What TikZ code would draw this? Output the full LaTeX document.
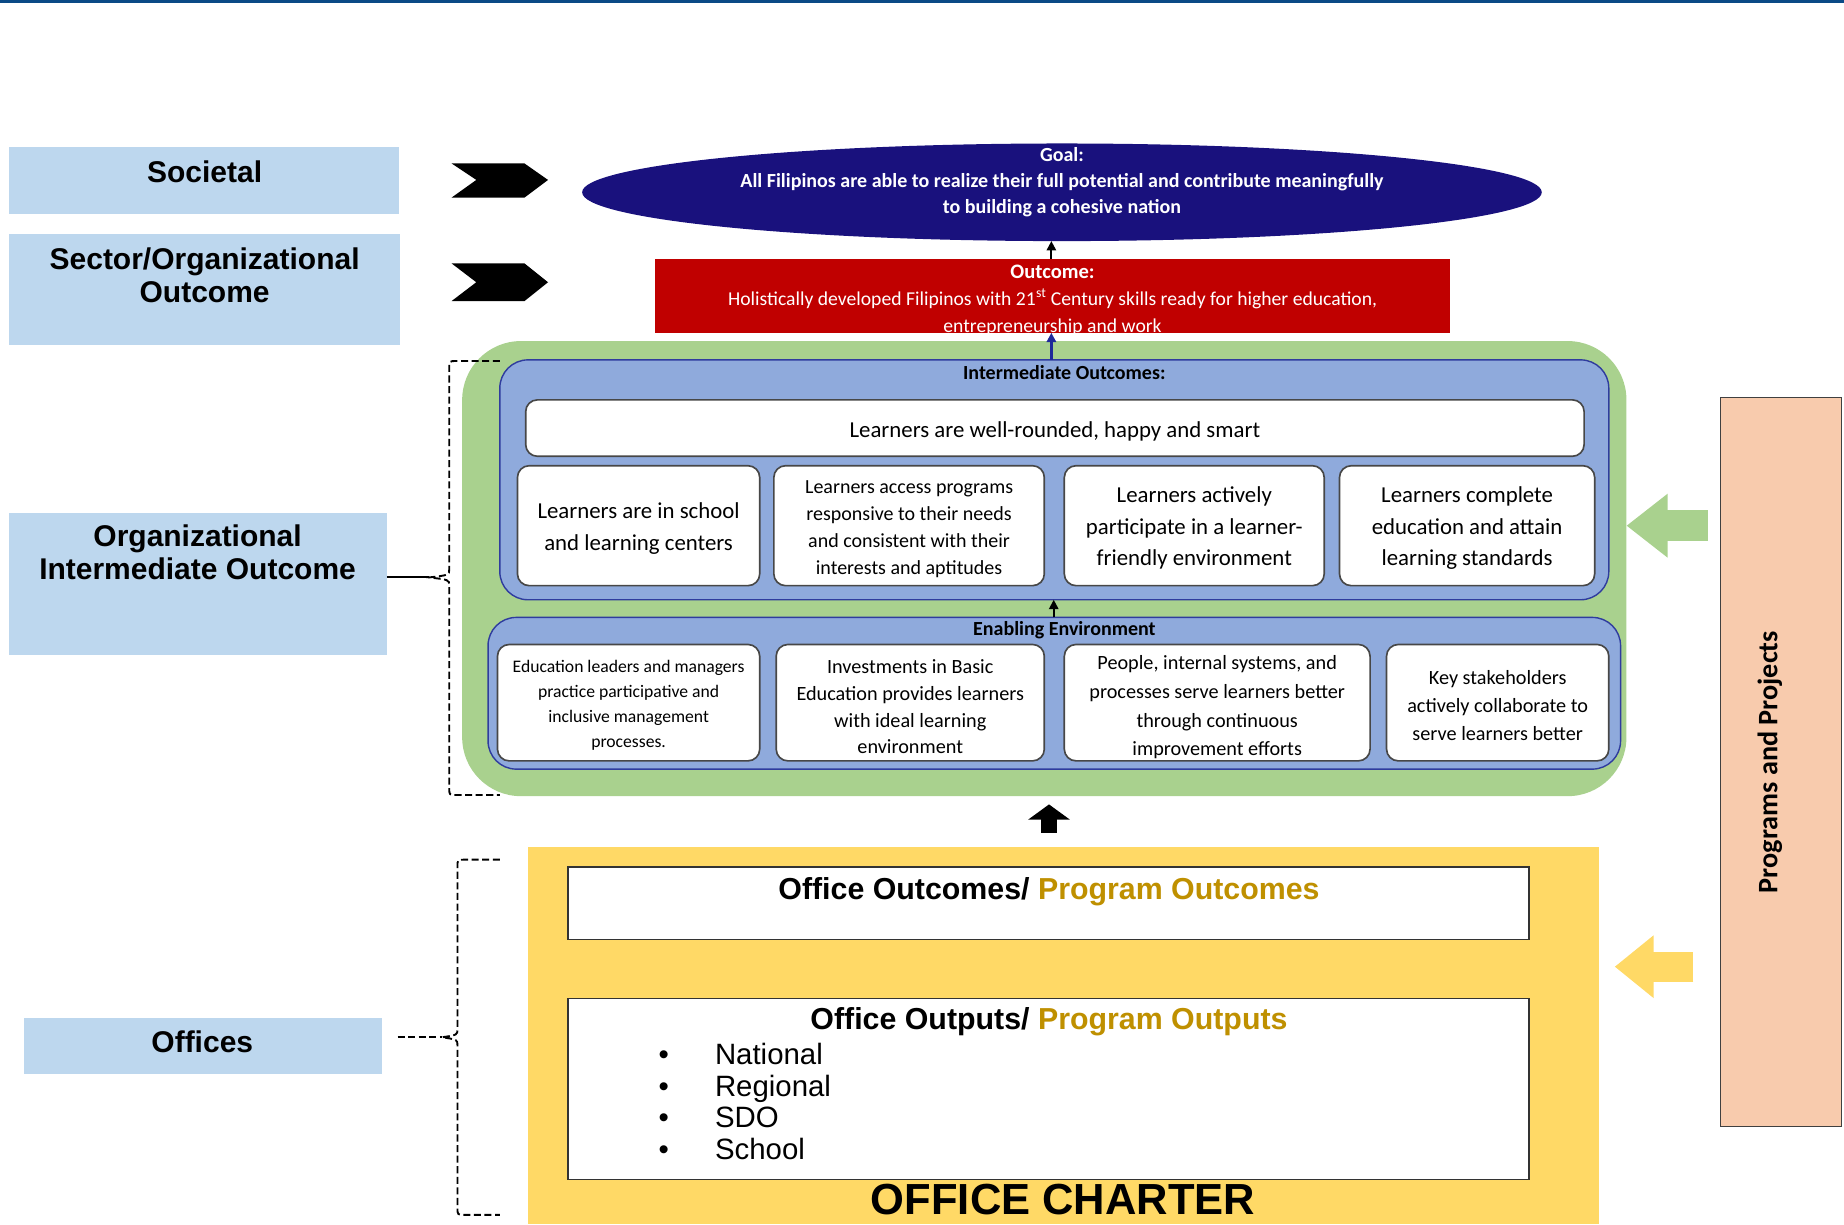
\documentclass[tikz,border=0pt]{standalone}
\usepackage{fontspec}
\setmainfont{Carlito}
\newfontfamily\arialf{Liberation Sans}
\usetikzlibrary{arrows.meta,shapes.geometric,fit}
\definecolor{topblue}{HTML}{0B4A86}
\definecolor{lblue}{HTML}{BDD7EE}
\definecolor{navy}{HTML}{19117D}
\definecolor{navyarrow}{HTML}{1F2A9A}
\definecolor{dred}{HTML}{C00000}
\definecolor{lgreen}{HTML}{A9D18E}
\definecolor{mblue}{HTML}{8FAADC}
\definecolor{bborder}{HTML}{2F3C9E}
\definecolor{yel}{HTML}{FFD966}
\definecolor{gold}{HTML}{BF9000}
\definecolor{peach}{HTML}{F8CBAD}
\begin{document}
\begin{tikzpicture}[x=1pt,y=-1pt,
  every node/.style={inner sep=0pt, outer sep=0pt},
  lbl/.style={fill=lblue},
  lbltxt/.style={font=\arialf\bfseries\fontsize{25.5}{28}\selectfont, align=center},
  wbox/.style={fill=white, draw=black!72, line width=1.4pt, rounded corners=10pt},
  wtxt/.style={align=center, yshift=-2pt},
  bbox/.style={fill=mblue, draw=bborder, line width=1.2pt, rounded corners=24pt},
  rbox/.style={fill=white, draw=black!80, line width=1.3pt},
  chev/.style={fill=black},
  brace/.style={line width=1.6pt, dash pattern=on 6pt off 3pt},
  thinarrow/.style={line width=1.6pt, -{Triangle[width=8pt,length=8pt]}},
  ttl/.style={font=\bfseries\fontsize{17}{19}\selectfont},
  arialtxt/.style={font=\arialf\bfseries\fontsize{25.8}{28}\selectfont},
  itemtxt/.style={font=\arialf\fontsize{25}{28}\selectfont, anchor=base west}
]
\useasboundingbox (0,0) rectangle (1568,1041);
\fill[topblue] (0,0) rectangle (1568,2.5);

% left labels
\node[lbl, fit={(8,125) (339,182)}] (soc) {};
\node[lbltxt] (soctxt) at (174,146) {Societal};
\node[lbl, fit={(8,199) (340,293)}] (sec) {};
\node[lbltxt] (sectxt) at (174,234) {Sector/Organizational\\Outcome};
\node[lbl, fit={(8,436) (329,557)}] (org) {};
\node[lbltxt] (orgtxt) at (168,469.5) {Organizational\\Intermediate Outcome};
\node[lbl, fit={(20,866) (325,913)}] (off) {};
\node[lbltxt] (offtxt) at (172,886) {Offices};

% chevrons
\fill[chev] (384,139) -- (446,139) -- (466,153) -- (446,168) -- (384,168) -- (405,153) -- cycle;
\fill[chev] (384,224) -- (446,224) -- (466,240) -- (446,256) -- (384,256) -- (405,240) -- cycle;

% goal
\node[ellipse, fill=navy, minimum width=816pt, minimum height=83pt] (goal) at (903,163.5) {};
\node[text=white, align=center, font=\bfseries\fontsize{17}{22}\selectfont] (goaltxt) at (903,155)
  {Goal:\\All Filipinos are able to realize their full potential and contribute meaningfully\\to building a cohesive nation};

% outcome
\node[fill=dred, fit={(557,220) (1233,283)}] (outc) {};
\node[text=white, align=center, font=\fontsize{16.7}{23}\selectfont] (outctxt) at (895,255)
  {{\bfseries\fontsize{17.5}{23}\selectfont Outcome:}\\Holistically developed Filipinos with 21\textsuperscript{st} Century skills ready for higher education,\\entrepreneurship and work};

% green container
\node[fill=lgreen, rounded corners=50pt, fit={(393,290) (1383,677)}] (green) {};

% intermediate outcomes
\node[bbox, fit={(425,306) (1368,510)}] (io) {};
\node[ttl] (iotxt) at (905,317) {Intermediate Outcomes:};
\node[wbox, fit={(447,340) (1347,388)}] (wr) {};
\node[wtxt, font=\fontsize{19.4}{22}\selectfont] (wrtxt) at (897,365) {Learners are well-rounded, happy and smart};
\node[wbox, fit={(440,396) (646,498)}] (b1) {};
\node[wtxt, font=\fontsize{19.4}{27}\selectfont] (b1txt) at (543,447.5) {Learners are in school\\and learning centers};
\node[wbox, fit={(658,396) (888,498)}] (b2) {};
\node[wtxt, font=\fontsize{17}{22.7}\selectfont] (b2txt) at (773,448) {Learners access programs\\responsive to their needs\\and consistent with their\\interests and aptitudes};
\node[wbox, fit={(905,396) (1126,498)}] (b3) {};
\node[wtxt, font=\fontsize{19.4}{27}\selectfont] (b3txt) at (1015.5,447) {Learners actively\\participate in a learner-\\friendly environment};
\node[wbox, fit={(1139,396) (1356,498)}] (b4) {};
\node[wtxt, font=\fontsize{19.4}{27}\selectfont] (b4txt) at (1247.5,447) {Learners complete\\education and attain\\learning standards};

% enabling environment
\node[bbox, fit={(415,525) (1378,654)}] (ee) {};
\node[ttl] (eetxt) at (905,536) {Enabling Environment};
\node[wbox, fit={(423,548) (646,647)}] (e1) {};
\node[wtxt, font=\fontsize{15}{21.3}\selectfont] (e1txt) at (534.5,598) {Education leaders and managers\\practice participative and\\inclusive management\\processes.};
\node[wbox, fit={(660,548) (888,647)}] (e2) {};
\node[wtxt, font=\fontsize{17.2}{22.7}\selectfont] (e2txt) at (774,599) {Investments in Basic\\Education provides learners\\with ideal learning\\environment};
\node[wbox, fit={(905,548) (1165,647)}] (e3) {};
\node[wtxt, font=\fontsize{17.2}{24.3}\selectfont] (e3txt) at (1035,599.5) {People, internal systems, and\\processes serve learners better\\through continuous\\improvement efforts};
\node[wbox, fit={(1179,548) (1368,647)}] (e4) {};
\node[wtxt, font=\fontsize{17.2}{24}\selectfont] (e4txt) at (1273.5,598) {Key stakeholders\\actively collaborate to\\serve learners better};

% office charter
\node[fill=yel, fit={(449,720) (1360,1041)}] (charter) {};
\node[rbox, fit={(483,737) (1300,799)}] (oo) {};
\node[arialtxt] (ootxt) at (892,758) {Office Outcomes/ \textcolor{gold}{Program Outcomes}};
\node[rbox, fit={(483,849) (1300,1003)}] (op) {};
\node[arialtxt] (optxt) at (892,869) {Office Outputs/ \textcolor{gold}{Program Outputs}};
\node[itemtxt] (i1) at (560,905) {\makebox[48pt][l]{\textbullet}National};
\node[itemtxt] (i2) at (560,932) {\makebox[48pt][l]{\textbullet}Regional};
\node[itemtxt] (i3) at (560,959) {\makebox[48pt][l]{\textbullet}SDO};
\node[itemtxt] (i4) at (560,986) {\makebox[48pt][l]{\textbullet}School};
\node[font=\arialf\bfseries\fontsize{37}{40}\selectfont] (octxt) at (904,1020) {OFFICE CHARTER};

% programs and projects
\node[fill=peach, draw=black!75, line width=1.2pt, fit={(1463,338) (1566,958)}] (pp) {};
\node[rotate=90, font=\bfseries\fontsize{24}{26}\selectfont] (pptxt) at (1505,648) {Programs and Projects};

% vertical connectors
\draw[thinarrow, black] (outc.north -| 894,0) -- (goal.south -| 894,0);
\draw[thinarrow, navyarrow, line width=2pt] (io.north -| 894,0) -- (outc.south -| 894,0);
\draw[thinarrow, black] (ee.north -| 896,0) -- (io.south -| 896,0);
\draw[line width=14pt, -{Triangle[width=35pt,length=13pt]}, shorten <=12pt, shorten >=7pt] (charter.north -| 892,0) -- (green.south -| 892,0);

% side block arrows
\draw[lgreen, line width=26pt, -{Triangle[width=52pt,length=35pt]}, shorten <=11pt] (pp.west |- 0,447) -- (green.east |- 0,447);
\draw[yel, line width=25.5pt, -{Triangle[width=51pt,length=33pt]}, shorten <=23pt, shorten >=13pt] (pp.west |- 0,822) -- (charter.east |- 0,822);

% braces
\coordinate (tip1) at (365,491);
\coordinate (tip2) at (376,882);
\draw[brace] (425,307) -- (388,307) .. controls (382,307) .. (382,313) -- (382,484) .. controls (382,489) .. (tip1) .. controls (382,493) .. (382,498) -- (382,670) .. controls (382,676) .. (388,676) -- (425,676);
\draw[line width=1.6pt] (org.east |- tip1) -- (tip1);
\draw[brace] (425,731) -- (395,731) .. controls (389,731) .. (389,737) -- (389,875) .. controls (389,880) .. (tip2) .. controls (389,884) .. (389,889) -- (389,1027) .. controls (389,1033) .. (395,1033) -- (425,1033);
\draw[brace, shorten <=13pt] (off.east |- tip2) -- (tip2);
\end{tikzpicture}
\end{document}
